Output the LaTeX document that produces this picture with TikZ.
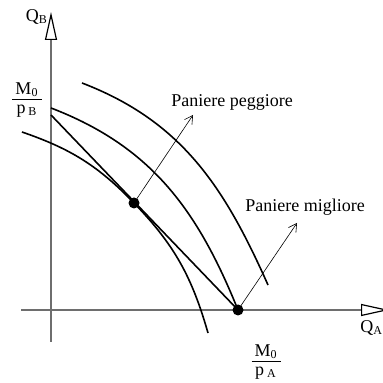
\documentclass[tikz,border=0pt]{standalone}
\usepackage{fontspec}
\setmainfont{Liberation Serif}
\usetikzlibrary{arrows.meta,positioning}
\definecolor{axisgray}{HTML}{6E6E6E}
\newcommand{\fracbox}[2]{\begin{tabular}{@{\hspace{1.5pt}}c@{\hspace{1.5pt}}}#1\\[-1pt]\hline #2\end{tabular}}

\begin{document}
\begin{tikzpicture}[
  x=0.5pt, y=0.5pt,
  font=\fontsize{9}{10}\selectfont,
  axis/.style={draw=axisgray, line width=0.8pt, -{Triangle[open, length=14pt, width=6pt, color=black, line width=0.6pt]}},
  curve/.style={line width=0.8pt},
  pointer/.style={line width=0.3pt, -{Straight Barb[length=4pt, width=4.5pt]}},
  basket/.style={circle, fill=black, inner sep=0pt, minimum size=5.5pt},
  frac/.style={inner sep=0pt, align=center}
]
  \useasboundingbox (0,0) rectangle (382,383);

  % axes
  \coordinate (ybot) at (51,41);
  \coordinate (ytop) at (51,371);
  \coordinate (xleft) at (21,73);
  \coordinate (xright) at (389,73);
  \draw[axis] (ybot) -- (ytop);
  \draw[axis] (xleft) -- (xright);
  \node (qb) at (37,366) {Q\textsubscript{B}};
  \node[anchor=west, inner sep=0pt] (qa) at (360,55) {Q\textsubscript{A}};

  % intercepts
  \node[frac] (mpb) at (27,283) {\fracbox{M\textsubscript{0}}{p\,\textsubscript{B}}};
  \node[frac] (mpa) at (266,21) {\fracbox{M\textsubscript{0}}{p\,\textsubscript{A}}};

  % baskets
  \coordinate (interB) at (51,268);
  \node[basket] (tang) at (134,180) {};
  \node[basket] (corner) at (238,73) {};

  % budget line
  \draw[curve] (interB) -- (corner.center);

  % indifference curves
  \coordinate (low1) at (22,251);
  \coordinate (low2) at (208,50);
  \coordinate (mid1) at (51,275);
  \coordinate (top1) at (82,300);
  \coordinate (top2) at (268,98);
  \draw[curve] (low1) to[out=-19, in=134] (tang.center) to[out=-46, in=106] (low2);
  \draw[curve] (mid1) to[out=-21, in=112] (corner.center);
  \draw[curve] (top1) to[out=-21, in=114] (top2);

  % labels
  \node (worse) at (232,281) {Paniere peggiore};
  \node (better) at (305,176) {Paniere migliore};
  \coordinate (worsetip) at (193,268);
  \coordinate (bettertip) at (297,160);
  \draw[pointer] (tang.center) -- (worsetip);
  \draw[pointer] (corner.center) -- (bettertip);
\end{tikzpicture}
\end{document}
